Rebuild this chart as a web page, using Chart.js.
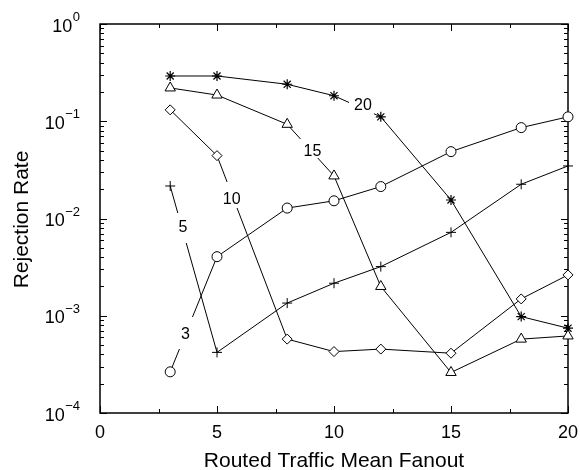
<!DOCTYPE html>
<html>
<head>
<meta charset="utf-8">
<script src="https://cdn.jsdelivr.net/npm/chart.js@4/dist/chart.umd.min.js"></script>
<style>
  html, body { margin: 0; padding: 0; background: #fff; }
  #wrap { width: 580px; height: 470px; }
</style>
</head>
<body>
<div id="wrap"><canvas id="c" width="580" height="470"></canvas></div>
<script>
// Mean fanout values on the x axis
const fanout = [3, 5, 8, 10, 12, 15, 18, 20];

// Rejection rate for each traffic class
const rate3  = [2.65e-4, 4.05e-3, 1.28e-2, 1.52e-2, 2.13e-2, 4.87e-2, 8.6e-2, 1.11e-1];
const rate5  = [2.16e-2, 4.2e-4, 1.35e-3, 2.16e-3, 3.2e-3, 7.2e-3, 2.25e-2, 3.47e-2];
const rate10 = [1.31e-1, 4.43e-2, 5.75e-4, 4.28e-4, 4.54e-4, 4.12e-4, 1.49e-3, 2.63e-3];
const rate15 = [2.2e-1, 1.86e-1, 9.3e-2, 2.74e-2, 2.0e-3, 2.61e-4, 5.75e-4, 6.2e-4];
const rate20 = [2.92e-1, 2.92e-1, 2.4e-1, 1.83e-1, 1.11e-1, 1.55e-2, 9.8e-4, 7.45e-4];

// Axis ticks
const xTickLabels = [0, 5, 10, 15, 20];
const xMinorTicks = [2.5, 7.5, 12.5, 17.5];
const yDecadeExps = [-4, -3, -2, -1, 0];

const FONT = '"Liberation Sans", Arial, Helvetica, sans-serif';

// In-plot series labels: anchor in data units, gap cut into the line around it (px)
const seriesLabels = [
  { text: '3',  x: 3.654,  y: 6.34e-4, gap: [11.5, 11.5, 18, 14] },
  { text: '5',  x: 3.547,  y: 8.08e-3, gap: [11, 11, 14.5, 15.5] },
  { text: '10', x: 5.628,  y: 1.55e-2, gap: [13.7, 14.3, 18, 8] },
  { text: '15', x: 9.081,  y: 4.86e-2, gap: [12.5, 11.5, 12.7, 6.3] },
  { text: '20', x: 11.239, y: 1.435e-1, gap: [14, 11, 8, 9] }
];

function series(values, shape, radius, bw) {
  return {
    data: fanout.map((f, i) => ({ x: f, y: values[i] })),
    borderColor: '#000',
    borderWidth: 1,
    pointStyle: shape,
    pointRadius: radius,
    pointHoverRadius: radius,
    pointBorderColor: '#000',
    pointBackgroundColor: '#fff',
    pointBorderWidth: bw,
    tension: 0,
    fill: false,
    clip: false
  };
}

const axesPlugin = {
  id: 'axesFrame',
  beforeDatasetsDraw(chart) {
    const { ctx, chartArea: a, scales: { x, y } } = chart;
    ctx.save();
    ctx.strokeStyle = '#000';
    ctx.lineWidth = 1;
    ctx.beginPath();
    // x ticks, pointing inward on bottom and top
    xTickLabels.forEach(v => {
      const p = Math.round(x.getPixelForValue(v)) + 0.5;
      ctx.moveTo(p, a.bottom); ctx.lineTo(p, a.bottom - 7);
      ctx.moveTo(p, a.top); ctx.lineTo(p, a.top + 7);
    });
    xMinorTicks.forEach(v => {
      const p = Math.round(x.getPixelForValue(v)) + 0.5;
      ctx.moveTo(p, a.bottom); ctx.lineTo(p, a.bottom - 4);
      ctx.moveTo(p, a.top); ctx.lineTo(p, a.top + 4);
    });
    // y ticks, pointing inward on left and right
    yDecadeExps.forEach(e => {
      const p = Math.round(y.getPixelForValue(Math.pow(10, e))) + 0.5;
      ctx.moveTo(a.left, p); ctx.lineTo(a.left + 7, p);
      ctx.moveTo(a.right, p); ctx.lineTo(a.right - 7, p);
      if (e < 0) {
        for (let m = 2; m <= 9; m++) {
          const q = Math.round(y.getPixelForValue(m * Math.pow(10, e))) + 0.5;
          ctx.moveTo(a.left, q); ctx.lineTo(a.left + 4, q);
          ctx.moveTo(a.right, q); ctx.lineTo(a.right - 4, q);
        }
      }
    });
    ctx.stroke();

    // frame
    ctx.lineWidth = 1.5;
    ctx.strokeRect(a.left, a.top, a.right - a.left, a.bottom - a.top);

    // x tick labels
    ctx.fillStyle = '#000';
    ctx.font = '18px ' + FONT;
    ctx.textAlign = 'center';
    ctx.textBaseline = 'alphabetic';
    xTickLabels.forEach(v => {
      ctx.fillText(String(v), x.getPixelForValue(v), a.bottom + 25);
    });

    // y tick labels: 10 with superscript exponent
    yDecadeExps.forEach(e => {
      const p = y.getPixelForValue(Math.pow(10, e));
      const sup = e < 0 ? '\u2212' + Math.abs(e) : String(e);
      ctx.font = '13px ' + FONT;
      const supW = ctx.measureText(sup).width;
      const right = 80;
      ctx.textAlign = 'left';
      ctx.fillText(sup, right - supW, p - 3);
      ctx.font = '18px ' + FONT;
      ctx.textAlign = 'right';
      ctx.fillText('10', right - supW - 0.5, p + 7.5);
    });

    // axis titles
    ctx.font = '21px ' + FONT;
    ctx.textAlign = 'center';
    ctx.fillText('Routed Traffic Mean Fanout', (a.left + a.right) / 2, 467);
    ctx.save();
    ctx.translate(28, (a.top + a.bottom) / 2 + 1);
    ctx.rotate(-Math.PI / 2);
    ctx.fillText('Rejection Rate', 0, 0);
    ctx.restore();
    ctx.restore();
  },
  afterDatasetsDraw(chart) {
    const { ctx, scales: { x, y } } = chart;
    ctx.save();
    seriesLabels.forEach(l => {
      const px = x.getPixelForValue(l.x);
      const py = y.getPixelForValue(l.y);
      const [gl, gr, gu, gd] = l.gap;
      ctx.fillStyle = '#fff';
      ctx.fillRect(px - gl, py - gu, gl + gr, gu + gd);
      ctx.fillStyle = '#000';
      ctx.font = '16px ' + FONT;
      ctx.textAlign = 'center';
      ctx.textBaseline = 'middle';
      ctx.fillText(l.text, px, py);
    });
    ctx.restore();
  }
};

new Chart(document.getElementById('c'), {
  type: 'line',
  data: {
    datasets: [
      series(rate3, 'circle', 5, 1),
      series(rate5, 'cross', 5, 1),
      series(rate10, 'rectRot', 5, 1),
      series(rate15, 'triangle', 6, 1),
      series(rate20, 'star', 5, 1.2)
    ]
  },
  options: {
    responsive: false,
    animation: false,
    events: [],
    layout: { padding: { top: 24, right: 12, left: 0, bottom: 0 }, autoPadding: false },
    plugins: { legend: { display: false }, tooltip: { enabled: false }, title: { display: false } },
    scales: {
      x: {
        type: 'linear', min: 0, max: 20,
        grid: { display: false }, border: { display: false },
        ticks: { display: false },
        afterFit(s) { s.height = 57; }
      },
      y: {
        type: 'logarithmic', min: 1e-4, max: 1,
        grid: { display: false }, border: { display: false },
        ticks: { display: false },
        afterFit(s) { s.width = 100; }
      }
    }
  },
  plugins: [axesPlugin]
});
</script>
</body>
</html>
